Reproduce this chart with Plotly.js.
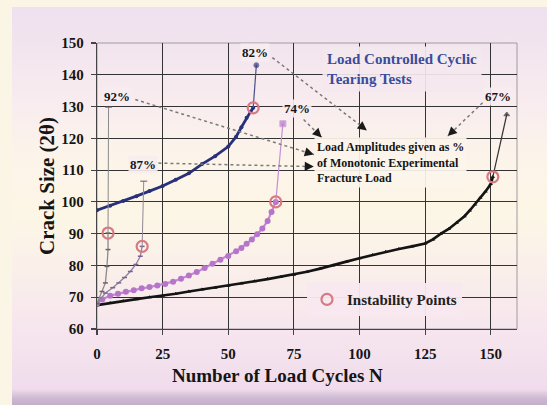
<!DOCTYPE html>
<html><head><meta charset="utf-8">
<script src="https://cdn.plot.ly/plotly-3.0.1.min.js"></script>
<style>
html,body{margin:0;padding:0;width:547px;height:405px;overflow:hidden;background:#fbf5e6;}
#bg{position:absolute;left:12px;top:7px;width:535px;height:398px;
background:linear-gradient(to bottom,#eee0ee 0%,#f2e4ee 9%,#f8ecef 24%,#fcf4e9 38%,#fcf6e6 53%,#faefea 66%,#f6e5ee 82%,#f0dcec 96%,#cdb9d2 98.3%,#c2afc9 100%);}
#chart{position:absolute;left:0;top:0;width:547px;height:405px;}
</style></head><body><div id="bg"></div><div id="chart"></div>
<script>
// ---- data ----
const cycles67 = [0,5,10,15,20,25,30,35,40,45,50,55,60,65,70,75,80,85,90,95,100,105,110,115,120,125,128,131,134,137,140,142,144,146,148,150,150.8];
const crack67  = [67.5,68.2,68.8,69.4,70,70.5,71.1,71.8,72.4,73,73.6,74.3,75,75.7,76.4,77.1,78,79,80,81.2,82.3,83.3,84.3,85.2,86,86.9,88.2,90,91.5,93.4,95.5,97.3,99.2,101.3,103.3,105.6,107.9];
const tail67x = [150.8,156.1], tail67y = [107.9,127.5];

const cycles74 = [0,2,5,8,11,14,17,20,23,26,29,32,35,38,41,44,47,50,53,55,57,59,61,63,65,66.5,68.1];
const crack74  = [68,69.3,70.5,71.1,71.7,72.2,72.8,73.2,73.7,74.2,74.9,75.8,76.8,77.9,79.2,80.5,81.8,83,84.5,85.5,86.8,88.2,89.8,91.6,94,96.8,100];
const tail74x = [68.1,70.8], tail74y = [100,124.6];

const cycles82 = [0,5,10,15,20,25,30,35,40,45,50,53,55,57,58.5,59.5];
const crack82  = [97.4,98.8,100.3,101.8,103.4,105,107,109,111.9,114.4,117.4,120.5,123.5,126.5,128.4,129.6];
const tail82x = [59.5,60.7], tail82y = [129.6,143];

const cycles87 = [0,3.2,6,8.3,10.5,12.7,14.8,16.5,17.2];
const crack87  = [68,71.3,73,74.5,76.2,78.1,80.3,82.9,86];
const tail87x = [17.2,17.8], tail87y = [86,106.5];

const cycles92 = [0,1.9,3.2,3.8,4.2,4.2];
const crack92  = [68,71.8,74.5,79.7,85,90.2];
const tail92x = [4.2,4.4], tail92y = [90.2,129.8];

const instabX = [4.2,17.2,59.5,68.1,150.8];
const instabY = [90.2,86,129.6,100,107.9];

const xTicks = [0,25,50,75,100,125,150];
const yTicks = [60,70,80,90,100,110,120,130,140,150];

const pctLabels = ['92%','87%','82%','74%','67%'];
const pctX = [7.5,17.4,60,76.1,152.8];
const pctY = [133.3,111.7,147.1,129.4,133.2];

// ---- styling ----
const SERIF = 'Liberation Serif, Times New Roman, serif';
const f = (size,color)=>({family:SERIF,size:size,color:color||'#151515',weight:'bold'});

const traces = [
  {x:cycles67,y:crack67,mode:'lines+markers',line:{color:'#141414',width:2.6},marker:{color:'#141414',size:4,symbol:'triangle-up'},showlegend:false,hoverinfo:'skip'},
  {x:tail67x,y:tail67y,mode:'lines+markers',line:{color:'#333',width:1.2},marker:{color:'#222',size:[0,5],symbol:'triangle-up'},showlegend:false},
  {x:cycles74,y:crack74,mode:'lines+markers',line:{color:'#c28ad4',width:2.2},marker:{color:'#b774cb',size:6},showlegend:false},
  {x:tail74x,y:tail74y,mode:'lines+markers',line:{color:'#c58fd6',width:1.2},marker:{color:'#b774cb',size:[0,6],symbol:'square'},showlegend:false},
  {x:cycles82,y:crack82,mode:'lines+markers',line:{color:'#28307a',width:2.8},marker:{color:'#28307a',size:4},showlegend:false},
  {x:tail82x,y:tail82y,mode:'lines+markers',line:{color:'#4a4f88',width:1.2},marker:{color:'#28307a',size:[0,5]},showlegend:false},
  {x:cycles87,y:crack87,mode:'lines+markers',line:{color:'#8f82a0',width:1.3},marker:{color:'#7a6590',size:3.5,symbol:'line-ew-open',line:{width:1.5,color:'#7a6590'}},showlegend:false},
  {x:tail87x,y:tail87y,mode:'lines+markers',line:{color:'#8f8898',width:1},marker:{color:'#6a6070',size:[0,5],symbol:'line-ew-open',line:{width:1.5,color:'#6a6070'}},showlegend:false},
  {x:cycles92,y:crack92,mode:'lines+markers',line:{color:'#8a8a8a',width:1.3},marker:{color:'#666',size:3.5,symbol:'line-ew-open',line:{width:1.5,color:'#666'}},showlegend:false},
  {x:tail92x,y:tail92y,mode:'lines+markers',line:{color:'#8a8a8a',width:1},marker:{color:'#666',size:[0,5],symbol:'line-ew-open',line:{width:1.5,color:'#666'}},showlegend:false},
  {x:instabX,y:instabY,mode:'markers',name:'Instability Points',marker:{symbol:'circle-open',size:11,color:'#d77a84',line:{width:2.2,color:'#d77a84'}},showlegend:true}
];

const W=547,H=405,mL=97,mR=30,mT=43,mB=76;
const xr=[0,160], yr=[60,150];
const pxX=(W-mL-mR)/(xr[1]-xr[0]), pxY=(H-mT-mB)/(yr[1]-yr[0]);

// dotted pointer lines: [startX,startY,headX,headY]
const pointers = [
  [66.8,145.4,102.8,122.5],
  [14.6,132.2,82.6,114.9],
  [23.4,112.2,82.6,111.1],
  [78.7,125.9,85.6,120.3],
  [146.9,131.2,133.6,120.7]
];
const shapes = [
  {type:'rect',xref:'paper',yref:'paper',x0:0,x1:1,y0:0,y1:1,line:{color:'#a09aa0',width:1},layer:'below'}
];
const annotations = [];
pointers.forEach(p=>{
  shapes.push({type:'line',x0:p[0],y0:p[1],x1:p[2],y1:p[3],line:{color:'#7a7a7a',width:1.5,dash:'dot'},layer:'above'});
  const dx=(p[2]-p[0])*pxX, dy=-(p[3]-p[1])*pxY, L=Math.hypot(dx,dy);
  annotations.push({x:p[2],y:p[3],text:'',showarrow:true,arrowhead:2,arrowsize:1.4,arrowwidth:1.3,arrowcolor:'#1a1a1a',ax:-dx/L*9,ay:-dy/L*9,standoff:0});
});
pctLabels.forEach((t,i)=>{
  annotations.push({x:pctX[i],y:pctY[i],text:t,showarrow:false,font:f(13),bgcolor:'rgba(247,236,240,0.9)',borderpad:1});
});
annotations.push({x:85.8,y:141.7,xanchor:'left',yanchor:'middle',align:'left',showarrow:false,
  text:'Load Controlled Cyclic<br>Tearing Tests',font:f(15,'#3a4c9c'),bgcolor:'rgba(244,232,239,0.92)',borderpad:4});
annotations.push({x:82.6,y:112.5,xanchor:'left',yanchor:'middle',align:'left',showarrow:false,
  text:'Load Amplitudes given as %<br>of Monotonic Experimental<br>Fracture Load',font:f(12),bgcolor:'rgba(252,244,234,0.92)',borderpad:2});
annotations.push({xref:'paper',yref:'paper',x:0.4286,y:-0.161,xanchor:'center',yanchor:'middle',showarrow:false,
  text:'Number of Load Cycles N',font:f(19)});

const axisCommon = {showgrid:true,gridcolor:'#333',gridwidth:1.1,zeroline:false,showline:true,linecolor:'#444',linewidth:1.2,
  ticks:'outside',ticklen:5,tickcolor:'#444',tickwidth:1.2,tickfont:f(15)};

const layout = {
  width:W,height:H,margin:{l:mL,r:mR,t:mT,b:mB},
  paper_bgcolor:'rgba(0,0,0,0)',plot_bgcolor:'rgba(0,0,0,0)',
  xaxis:Object.assign({},axisCommon,{range:xr,tickvals:xTicks,ticklabelstandoff:6}),
  yaxis:Object.assign({},axisCommon,{range:yr,tickvals:yTicks,ticklabelstandoff:4,
    title:{text:'Crack Size (2θ)',font:f(21),standoff:1}}),
  showlegend:true,
  legend:{x:0.5,y:0.1025,xanchor:'left',yanchor:'middle',bgcolor:'rgba(247,233,239,0.95)',font:f(15,'#222'),itemwidth:30},
  shapes:shapes,annotations:annotations
};
Plotly.newPlot('chart',traces,layout,{displayModeBar:false,staticPlot:true});
</script></body></html>
